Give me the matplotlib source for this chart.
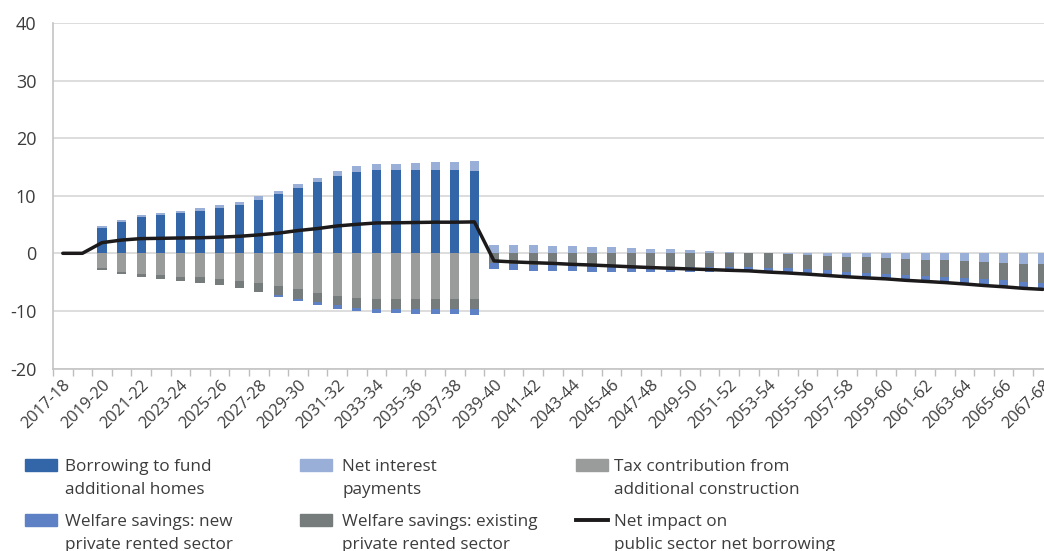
import numpy as np
import matplotlib
matplotlib.use("Agg")
import matplotlib.pyplot as plt
from matplotlib.patches import Rectangle
from matplotlib.lines import Line2D

plt.rcParams['font.family'] = ['Open Sans', 'DejaVu Sans']
plt.rcParams['axes.unicode_minus'] = False

years = [f"{y}-{(y + 1) % 100:02d}" for y in range(2017, 2068)]

# £bn per year, positive = adds to borrowing
borrowing = [0, 0, 4.46, 5.5, 6.3, 6.7, 7.06, 7.4, 7.9, 8.45, 9.3, 10.24, 11.28, 12.38,
             13.5, 14.2, 14.47, 14.47, 14.4, 14.4, 14.4, 14.35,
             0, 0, 0, 0, 0, 0, 0, 0, 0, 0, 0, 0, 0, 0, 0, 0, 0, 0, 0, 0, 0, 0, 0, 0,
             0, 0, 0, 0, 0]
interest = [0, 0, 0.23, 0.3, 0.3, 0.35, 0.35, 0.4, 0.46, 0.46, 0.58, 0.58, 0.69, 0.69,
            0.75, 0.93, 0.98, 1.1, 1.27, 1.39, 1.5, 1.68,
            1.48, 1.45, 1.39, 1.33, 1.21, 1.13, 1.01, 0.9, 0.78, 0.67, 0.55, 0.43, 0.27, 0.12,
            0.0, -0.1, -0.23, -0.4, -0.58, -0.7, -0.81, -1.0, -1.1, -1.2, -1.33, -1.5, -1.62,
            -1.8, -1.9]
tax = [0, 0, -2.5, -3.24, -3.6, -3.8, -4.05, -4.2, -4.4, -4.75, -5.2, -5.6, -6.25, -6.9,
       -7.4, -7.7, -7.93, -7.93, -7.93, -7.93, -7.93, -7.85,
       0, 0, 0, 0, 0, 0, 0, 0, 0, 0, 0, 0, 0, 0, 0, 0, 0, 0, 0, 0, 0, 0, 0, 0,
       0, 0, 0, 0, 0]
welfare_existing = [0, 0, -0.4, -0.4, -0.5, -0.65, -0.75, -0.87, -1.16, -1.27, -1.5, -1.68,
                    -1.62, -1.56, -1.62, -1.74, -1.68, -1.74, -1.74, -1.74, -1.74, -1.85,
                    -1.7, -1.87, -1.97, -2.06, -2.15, -2.22, -2.28, -2.34, -2.38, -2.42,
                    -2.45, -2.46, -2.46, -2.45,
                    -2.5, -2.52, -2.55, -2.57, -2.6, -2.65, -2.7, -2.74, -2.8, -2.86, -2.93,
                    -3.0, -3.07, -3.14, -3.2]
welfare_new = [0, 0, 0, 0, 0, 0, 0, 0, 0, 0, 0, -0.23, -0.4, -0.58, -0.64, -0.64, -0.75,
               -0.75, -0.8, -0.85, -0.9, -1.0,
               -1.1, -1.08, -1.05, -1.02, -0.98, -0.95, -0.92, -0.9, -0.88, -0.85, -0.82,
               -0.8, -0.76, -0.72,
               -0.76, -0.8, -0.84, -0.88, -0.9, -0.92, -0.93, -0.95, -0.98, -1.02, -1.06,
               -1.09, -1.12, -1.14, -1.16]
net_impact = [0, 0, 1.85, 2.3, 2.55, 2.6, 2.66, 2.7, 2.8, 2.95, 3.2, 3.5, 3.95, 4.3, 4.75,
              5.03, 5.27, 5.3, 5.35, 5.4, 5.4, 5.45,
              -1.32, -1.5, -1.63, -1.75, -1.92, -2.04, -2.19, -2.34, -2.48, -2.6, -2.72,
              -2.83, -2.95, -3.05, -3.26, -3.42, -3.62, -3.85, -4.08, -4.27, -4.44, -4.69,
              -4.88, -5.08, -5.32, -5.59, -5.81, -6.08, -6.26]

c_borrow = '#3366a9'
c_interest = '#99afd7'
c_tax = '#9a9c9b'
c_new = '#5e81c5'
c_exist = '#767c7b'
c_line = '#1c1a1b'
c_text = '#3c3c3c'

fig = plt.figure(figsize=(10.44, 5.51), dpi=100)
ax = fig.add_axes([53 / 1044, 182.5 / 551, 999.6 / 1044, 345.6 / 551])

x = np.arange(len(years))
pos_base = np.zeros(len(x))
neg_base = np.zeros(len(x))
for vals, col in [(borrowing, c_borrow), (interest, c_interest), (tax, c_tax),
                  (welfare_existing, c_exist), (welfare_new, c_new)]:
    v = np.array(vals, dtype=float)
    bottom = np.where(v >= 0, pos_base, neg_base)
    ax.bar(x, v, 0.46, bottom=bottom, color=col, zorder=2)
    pos_base = pos_base + np.where(v > 0, v, 0)
    neg_base = neg_base + np.where(v < 0, v, 0)

ax.plot(x, net_impact, color=c_line, lw=2.5, zorder=3, solid_capstyle='round')

ax.set_xlim(-0.5, len(years) - 0.5)
ax.set_ylim(-20, 40)
ax.set_yticks(range(-20, 41, 10))
ax.yaxis.grid(True, color='#dadada', lw=1.3, zorder=0)
ax.set_axisbelow(True)
ax.tick_params(axis='y', length=0, pad=12, labelsize=13, labelcolor=c_text)

# boundary ticks without labels, labels on every other category
ax.set_xticks(np.arange(-0.5, len(years), 1))
ax.set_xticklabels([])
ax.tick_params(axis='x', which='major', length=5, color='#bdbdbd', width=1)
ax.set_xticks(x[::2], minor=True)
ax.set_xticklabels(years[::2], minor=True, rotation=45, ha='right', va='top',
                   rotation_mode='anchor', fontsize=11.8, color=c_text)
ax.tick_params(axis='x', which='minor', length=0, pad=6)

for s in ['top', 'right']:
    ax.spines[s].set_visible(False)
ax.spines['left'].set_color('#c4c4c4')
ax.spines['bottom'].set_color('#c4c4c4')
ax.spines['left'].set_linewidth(1.2)
ax.spines['bottom'].set_linewidth(1.2)

W, H = 1044, 551
entries = [
    (25, 459, 65, 'Borrowing to fund\nadditional homes', c_borrow),
    (300, 459, 342, 'Net interest\npayments', c_interest),
    (576, 459, 614, 'Tax contribution from\nadditional construction', c_tax),
    (25, 514, 65, 'Welfare savings: new\nprivate rented sector', c_new),
    (300, 514, 342, 'Welfare savings: existing\nprivate rented sector', c_exist),
    (576, 514, 614, 'Net impact on\npublic sector net borrowing', None),
]
for px, py, tx, label, col in entries:
    if col is None:
        fig.add_artist(Line2D([px / W, (px + 32) / W], [1 - (py + 6) / H, 1 - (py + 6) / H],
                              color=c_line, lw=2.8))
    else:
        fig.add_artist(Rectangle((px / W, 1 - (py + 12) / H), 32 / W, 12 / H,
                                 color=col, transform=fig.transFigure))
    fig.text(tx / W, 1 - py / H, label, ha='left', va='top',
             fontsize=12.3, color=c_text, linespacing=1.55)

fig.savefig('out.png', dpi=100)
